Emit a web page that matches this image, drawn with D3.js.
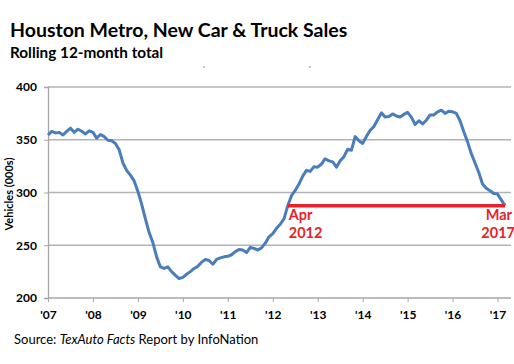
<!DOCTYPE html>
<html><head><meta charset="utf-8">
<script src="https://cdn.jsdelivr.net/npm/d3@7"></script>
<style>body{margin:0;background:#fff}svg{display:block}text{font-family:Lato,"Open Sans",sans-serif}</style>
</head><body><div id="chart"></div>
<script>
const yearLabels = ["'07","'08","'09","'10","'11","'12","'13","'14","'15","'16","'17"];
const yTicks = [200,250,300,350,400];
// Monthly rolling 12-month totals (000s), Jan 2007 .. Mar 2017
const sales2007 = [354.5,358,356.5,357,354.5,358,361,357,360,358,355.5,358.5];
const sales2008 = [357,351.5,355,353,349.5,349,346.5,340.5,328,321,316.5,311];
const sales2009 = [301,289,275,262,252.5,239,229.5,228,229.5,225,221.5,218.5];
const sales2010 = [219.5,222.5,225,228,230,234,236.5,235.5,232,236.5,238,239];
const sales2011 = [239.5,241,244,246,245.5,243,248,247,245.5,247.5,252,258];
const sales2012 = [261,266,270,275,287.5,297,302,308,315.5,321,320,324.5];
const sales2013 = [324,327,332,330,329,324,330,334,341,340,353,349];
const sales2014 = [346.5,353,359,362.5,369,375.5,371.5,372,374.5,372.5,371.5,374];
const sales2015 = [376,371.5,364.5,368,365,368.5,373.5,373.5,376.5,378,375,377];
const sales2016 = [376.5,375,368,357.5,348,337,328,319,308,304,301.7,299];
const sales2017 = [298.5,293,287.5];
const sales = [].concat(sales2007,sales2008,sales2009,sales2010,sales2011,sales2012,sales2013,sales2014,sales2015,sales2016,sales2017);
const refStart = 64;              // Apr 2012
const refEnd = sales.length - 1;  // Mar 2017
const refLabels = [["Apr","2012"],["Mar","2017"]];

const W = 514, H = 364;
const svg = d3.select("#chart").append("svg").attr("width",W).attr("height",H);
const x = d3.scaleLinear().domain([0,123.6]).range([48,511]);
const y = d3.scaleLinear().domain([200,400]).range([298,87]);

svg.append("text").attr("x",10).attr("y",37).attr("font-size",19.5).attr("font-weight","bold").attr("fill","#000")
  .text("Houston Metro, New Car & Truck Sales");
svg.append("text").attr("x",10).attr("y",58).attr("font-size",15.3).attr("font-weight","bold").attr("fill","#000")
  .text("Rolling 12-month total");
svg.append("text").attr("x",203).attr("y",72).attr("font-size",8).attr("fill","#333").text("'");
svg.append("text").attr("x",309).attr("y",72).attr("font-size",8).attr("fill","#333").text("'");

// gridlines
svg.append("g").selectAll("line").data(yTicks.filter(d=>d>200)).join("line")
  .attr("x1",48).attr("x2",511).attr("y1",d=>y(d)).attr("y2",d=>y(d))
  .attr("stroke","#b3b3b3").attr("stroke-width",1.3);

// y axis
const ya = svg.append("g").attr("transform","translate(48,0)")
  .call(d3.axisLeft(y).tickValues(yTicks).tickSize(4).tickFormat(d3.format("d")));
ya.select(".domain").attr("stroke","#a6a6a6").attr("stroke-width",1.3);
ya.selectAll(".tick line").attr("stroke","#a6a6a6");
ya.selectAll("text").attr("font-size",12).attr("font-weight","bold").attr("fill","#000")
  .attr("font-family","Lato,sans-serif").attr("x",-11);

// x axis
const xa = svg.append("g").attr("transform","translate(0,298)")
  .call(d3.axisBottom(x).tickValues(d3.range(0,121,12)).tickSize(4).tickFormat((d,i)=>yearLabels[i]));
xa.select(".domain").attr("stroke","#a6a6a6").attr("stroke-width",1.3).attr("d","M48,0H511");
xa.selectAll(".tick line").attr("stroke","#a6a6a6");
xa.selectAll("text").attr("font-size",12).attr("font-weight","bold").attr("fill","#000")
  .attr("font-family","Lato,sans-serif").attr("dy","0").attr("y",21);

svg.append("text").attr("transform","translate(13,194) rotate(-90)").attr("text-anchor","middle")
  .attr("font-size",11).attr("font-weight","bold").attr("fill","#000").text("Vehicles (000s)");

// line
svg.append("path").datum(sales)
  .attr("d",d3.line().x((d,i)=>x(i)).y(d=>y(d)))
  .attr("fill","none").attr("stroke","#4a7ebb").attr("stroke-width",3).attr("stroke-linejoin","round");

// reference line
svg.append("line").attr("x1",x(refStart)).attr("x2",x(refEnd))
  .attr("y1",y(sales[refEnd])).attr("y2",y(sales[refEnd]))
  .attr("stroke","#e8222b").attr("stroke-width",3.5);
const red = "#e8222b";
svg.append("text").attr("x",x(refStart)+1).attr("y",220).attr("font-size",14.5).attr("font-weight","bold").attr("fill",red).text(refLabels[0][0]);
svg.append("text").attr("x",x(refStart)+1).attr("y",238).attr("font-size",14.5).attr("font-weight","bold").attr("fill",red).text(refLabels[0][1]);
svg.append("text").attr("x",512).attr("y",220).attr("text-anchor","end").attr("font-size",14.5).attr("font-weight","bold").attr("fill",red).text(refLabels[1][0]);
svg.append("text").attr("x",515).attr("y",238).attr("text-anchor","end").attr("font-size",14.5).attr("font-weight","bold").attr("fill",red).text(refLabels[1][1]);

// source
const src = svg.append("text").attr("x",14).attr("y",344).attr("font-size",13).attr("fill","#000");
src.append("tspan").text("Source: ");
src.append("tspan").attr("font-style","italic").text("TexAuto Facts");
src.append("tspan").text(" Report by InfoNation");
</script></body></html>
